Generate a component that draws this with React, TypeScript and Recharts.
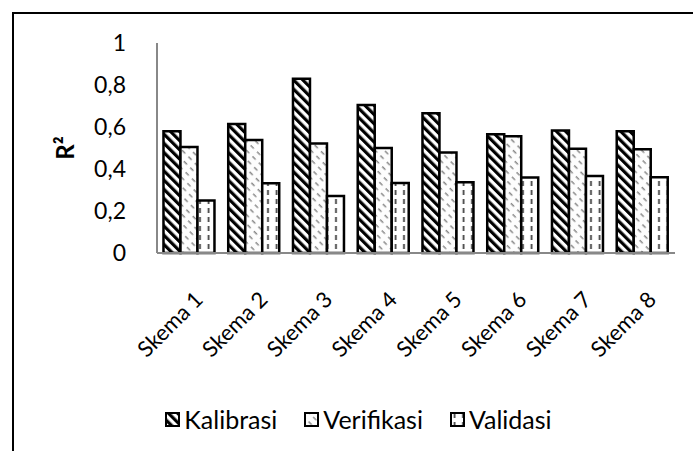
import { BarChart, Bar, XAxis, YAxis } from 'recharts';

const skema = ['Skema 1', 'Skema 2', 'Skema 3', 'Skema 4', 'Skema 5', 'Skema 6', 'Skema 7', 'Skema 8'];
const kalibrasi = [0.58, 0.614, 0.83, 0.705, 0.665, 0.566, 0.583, 0.58];
const verifikasi = [0.505, 0.538, 0.522, 0.5, 0.478, 0.556, 0.496, 0.494];
const validasi = [0.25, 0.332, 0.271, 0.333, 0.337, 0.36, 0.367, 0.361];
const yTicks = [0, 0.2, 0.4, 0.6, 0.8, 1];

const seriesNames = ['Kalibrasi', 'Verifikasi', 'Validasi'];
const patternIds = ['patKal', 'patVer', 'patVal'];

const FONT = 'Lato, "Open Sans", sans-serif';

const data = skema.map((name, i) => ({
  name,
  Kalibrasi: kalibrasi[i],
  Verifikasi: verifikasi[i],
  Validasi: validasi[i],
}));

function Patterns({ prefix = '' }: { prefix?: string }) {
  return (
    <defs>
      <pattern id={prefix + 'patKal'} patternUnits="userSpaceOnUse" width={6.5} height={6.5} patternTransform="rotate(-45)">
        <rect width={6.5} height={6.5} fill="#fff" />
        <rect width={3.2} height={6.5} fill="#000" />
      </pattern>
      <pattern id={prefix + 'patVer'} patternUnits="userSpaceOnUse" width={6.5} height={9} patternTransform="rotate(-45)">
        <rect width={6.5} height={9} fill="#fdfdfd" />
        <line x1={3} y1={1} x2={3} y2={5.5} stroke="#8a8a8a" strokeWidth={1.5} />
      </pattern>
      <pattern id={prefix + 'patVal'} patternUnits="userSpaceOnUse" width={8.5} height={9}>
        <rect width={8.5} height={9} fill="#fff" />
        <line x1={4.5} y1={1} x2={4.5} y2={6} stroke="#444" strokeWidth={1.8} />
      </pattern>
    </defs>
  );
}

function SkemaTick(props: any) {
  const { x, y, payload } = props;
  return (
    <text
      x={x + 15}
      y={y + 40}
      transform={`rotate(-45 ${x + 15} ${y + 40})`}
      textAnchor="end"
      fontFamily={FONT}
      fontSize={22}
      fill="#000"
    >
      {payload.value}
    </text>
  );
}

export default function App() {
  return (
    <div style={{ position: 'fixed', left: 0, top: 0, width: 693, height: 451, overflow: 'hidden', background: '#fff' }}>
      <div
        style={{
          position: 'absolute',
          left: 12,
          top: 12,
          width: 900,
          height: 700,
          borderLeft: '2.5px solid #000',
          borderTop: '2.5px solid #000',
        }}
      />
      <div style={{ position: 'absolute', left: 0, top: 0 }}>
        <BarChart
          width={693}
          height={451}
          data={data}
          margin={{ top: 43, right: 18, bottom: 138, left: 0 }}
          barCategoryGap="10%"
          barGap={0}
        >
          <Patterns />
          <XAxis
            dataKey="name"
            height={60}
            axisLine={{ stroke: '#888', strokeWidth: 2 }}
            tickLine={false}
            interval={0}
            tick={<SkemaTick />}
          />
          <YAxis
            width={157}
            domain={[0, 1]}
            ticks={yTicks}
            axisLine={{ stroke: '#888', strokeWidth: 2 }}
            tickLine={false}
            tickMargin={25}
            tick={{ fontFamily: FONT, fontSize: 23, fill: '#000' }}
            tickFormatter={(v: number) => String(v).replace('.', ',')}
            label={{
              content: () => (
                <text
                  x={64}
                  y={148}
                  transform="rotate(-90 64 148)"
                  textAnchor="middle"
                  dominantBaseline="central"
                  fontFamily={FONT}
                  fontWeight="bold"
                  fontSize={24}
                  fill="#000"
                >
                  R²
                </text>
              ),
            }}
          />
          {seriesNames.map((s, i) => (
            <Bar
              key={s}
              dataKey={s}
              fill={`url(#${patternIds[i]})`}
              stroke="#000"
              strokeWidth={2.5}
              isAnimationActive={false}
            />
          ))}
        </BarChart>
      </div>
      <div
        style={{
          position: 'absolute',
          left: 0,
          top: 405,
          width: 693,
          display: 'flex',
          justifyContent: 'center',
          gap: 27,
          fontFamily: FONT,
          fontSize: 25,
          lineHeight: '28px',
          paddingLeft: 24,
          boxSizing: 'border-box',
        }}
      >
        {seriesNames.map((s, i) => (
          <div key={s} style={{ display: 'flex', alignItems: 'center' }}>
            <svg width={15} height={15} style={{ marginRight: 4 }}>
              <Patterns prefix="lg" />
              <rect x={1} y={1} width={13} height={13} fill={`url(#lg${patternIds[i]})`} stroke="#000" strokeWidth={2} />
            </svg>
            <span>{s}</span>
          </div>
        ))}
      </div>
    </div>
  );
}
